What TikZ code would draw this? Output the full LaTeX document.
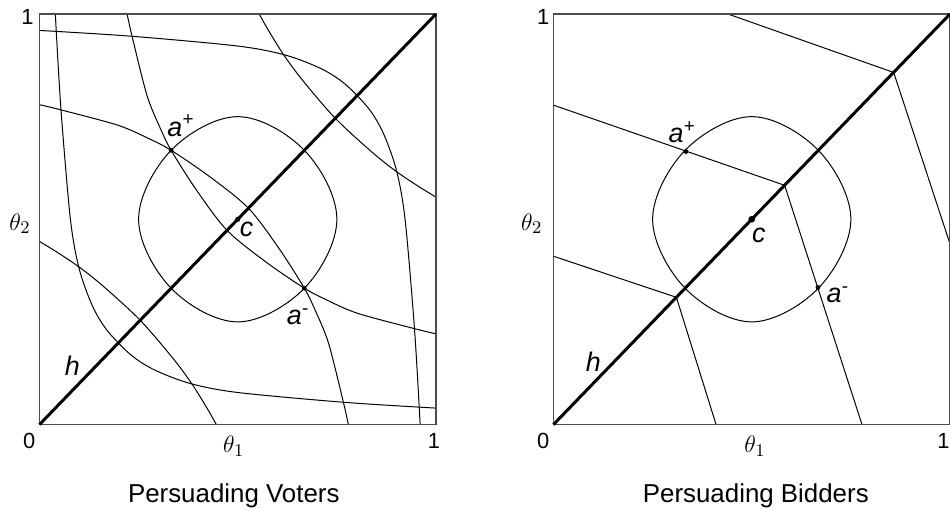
\documentclass[tikz,border=0pt]{standalone}
\usepackage[no-math]{fontspec}
\setmainfont{Liberation Sans}
\begin{document}
\begin{tikzpicture}[
  lvl/.style={black, line width=0.5pt},
  boxline/.style={black!70, line width=0.6pt},
  hline/.style={black, line width=1.5pt},
  lbl/.style={inner sep=0pt, anchor=base west, font=\fontsize{13.5}{15}\selectfont\itshape},
  num/.style={inner sep=0pt, font=\fontsize{11}{13}\selectfont},
  ax/.style={inner sep=0pt, anchor=base, font=\fontsize{12.5}{14}\selectfont},
  ptitle/.style={inner sep=0pt, anchor=base, font=\fontsize{13}{15}\selectfont}]
  \useasboundingbox (-0.697,-1.5095) rectangle (16.074,7.4946);

  % Persuading Voters
  \begin{scope}[xscale=7, yscale=7.247]
    \draw[lvl] plot[smooth] coordinates
      {(0,0.96) (0.23,0.946) (0.5,0.922) (0.62,0.9) (0.71,0.867) (0.77,0.83)
       (0.83,0.77) (0.867,0.71) (0.9,0.62) (0.922,0.5) (0.946,0.23) (0.96,0)};
    \draw[lvl] plot[smooth] coordinates
      {(1,0.04) (0.77,0.054) (0.5,0.078) (0.38,0.1) (0.29,0.133) (0.23,0.17)
       (0.17,0.23) (0.133,0.29) (0.1,0.38) (0.078,0.5) (0.054,0.77) (0.04,1)};
    \draw[lvl] plot[smooth] coordinates
      {(0.221,1) (0.233,0.948) (0.271,0.802) (0.305,0.721) (0.332,0.668) (0.396,0.571)
       (0.473,0.473) (0.571,0.396) (0.668,0.332) (0.721,0.305) (0.802,0.271) (0.948,0.233) (1,0.221)};
    \draw[lvl] plot[smooth] coordinates
      {(0.779,0) (0.767,0.052) (0.729,0.198) (0.695,0.279) (0.668,0.332) (0.604,0.429)
       (0.527,0.527) (0.429,0.604) (0.332,0.668) (0.279,0.695) (0.198,0.729) (0.052,0.767) (0,0.779)};
    \draw[lvl] plot[smooth] coordinates
      {(0.554,1) (0.58,0.956) (0.617,0.899) (0.664,0.838) (0.746,0.746)
       (0.838,0.664) (0.899,0.617) (0.956,0.58) (1,0.554)};
    \draw[lvl] plot[smooth] coordinates
      {(0.446,0) (0.42,0.044) (0.383,0.101) (0.336,0.162) (0.254,0.254)
       (0.162,0.336) (0.101,0.383) (0.044,0.42) (0,0.446)};
    \draw[lvl] plot[smooth cycle, tension=0.6] coordinates
      {(0.5,0.75) (0.668,0.668) (0.75,0.5) (0.668,0.332)
       (0.5,0.25) (0.332,0.332) (0.25,0.5) (0.332,0.668)};
    \draw[boxline] (0,0) rectangle (1,1);
    \draw[hline] (0,0) -- (1,1);
    \coordinate (lap) at (0.332,0.668);
    \coordinate (lam) at (0.668,0.332);
    \coordinate (lcc) at (0.5,0.5);
  \end{scope}
  \fill (lap) circle (1.2pt);
  \fill (lam) circle (1.2pt);
  \fill (lcc) circle (1.3pt);
  \node[num] (lone) at (-0.21,7.19) {1};
  \node[num] (lzero) at (-0.18,-0.29) {0};
  \node[num] (lonex) at (6.962,-0.29) {1};
  \node[ax] (lth1) at (3.428,-0.494) {$\theta_1$};
  \node[ax] (lth2) at (-0.344,3.434) {$\theta_2$};
  \node[ptitle] (ltitle) at (3.43,-1.381) {Persuading Voters};
  \node[lbl] (lapl) at (2.25,5.09) {a\textsuperscript{+}};
  \node[lbl] (lcl) at (3.53,3.32) {c};
  \node[lbl] (laml) at (4.36,1.76) {a\textsuperscript{-}};
  \node[lbl] (lhl) at (0.44,0.86) {h};

  % Persuading Bidders
  \begin{scope}[shift={(9.074,0)}, xscale=7, yscale=7.247]
    \coordinate (rk1) at (0.858,0.858);
    \coordinate (rk2) at (0.583,0.583);
    \coordinate (rk3) at (0.31,0.31);
    \draw[lvl] (0.44,1) -- (rk1) -- (1,0.44);
    \draw[lvl] (0,0.778) -- (rk2) -- (0.778,0);
    \draw[lvl] (0,0.41) -- (rk3) -- (0.41,0);
    \draw[lvl] plot[smooth cycle, tension=0.6] coordinates
      {(0.5,0.75) (0.668,0.668) (0.75,0.5) (0.668,0.332)
       (0.5,0.25) (0.332,0.332) (0.25,0.5) (0.332,0.668)};
    \draw[boxline] (0,0) rectangle (1,1);
    \draw[hline] (0,0) -- (1,1);
    \coordinate (rap) at (0.334,0.665);
    \coordinate (ram) at (0.667,0.334);
    \coordinate (rcc) at (0.5,0.5);
  \end{scope}
  \fill (rap) circle (1.2pt);
  \fill (ram) circle (1.2pt);
  \fill (rcc) circle (1.7pt);
  \node[num] (rone) at (8.894,7.19) {1};
  \node[num] (rzero) at (8.894,-0.29) {0};
  \node[num] (ronex) at (15.96,-0.29) {1};
  \node[ax] (rth1) at (12.631,-0.494) {$\theta_1$};
  \node[ax] (rth2) at (8.689,3.434) {$\theta_2$};
  \node[ptitle] (rtitle) at (12.646,-1.381) {Persuading Bidders};
  \node[lbl] (rapl) at (11.1,4.975) {a\textsuperscript{+}};
  \node[lbl] (rcl) at (12.574,3.21) {c};
  \node[lbl] (raml) at (13.89,2.15) {a\textsuperscript{-}};
  \node[lbl] (rhl) at (9.638,0.932) {h};
\end{tikzpicture}
\end{document}
